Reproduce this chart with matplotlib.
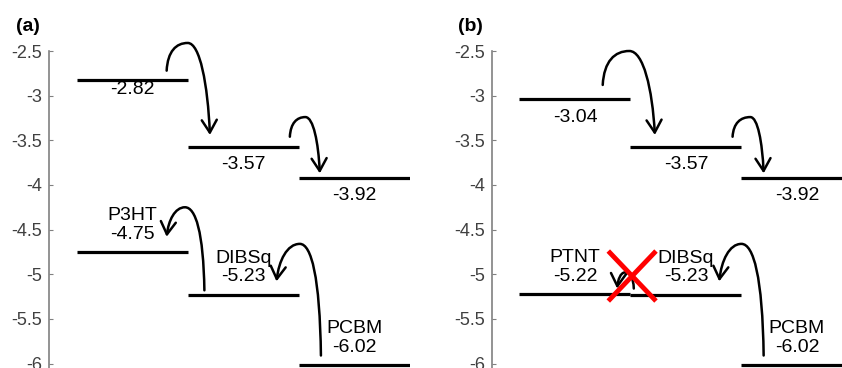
import matplotlib.pyplot as plt
from matplotlib.path import Path
from matplotlib.patches import FancyArrowPatch

plt.rcParams['font.family'] = ['Liberation Sans', 'DejaVu Sans']

# energy levels (eV): position 0 = donor, 1 = DIBSq, 2 = PCBM
lumo_a = [-2.82, -3.57, -3.92]
homo_a = [-4.75, -5.23, -6.02]
lumo_b = [-3.04, -3.57, -3.92]
homo_b = [-5.22, -5.23, -6.02]
names_a = ['P3HT', 'DIBSq', 'PCBM']
names_b = ['PTNT', 'DIBSq', 'PCBM']
yticks = [-6, -5.5, -5, -4.5, -4, -3.5, -3, -2.5]

# gap between LUMO line and its value label
lumo_gap_a = [0.11, 0.2, 0.2]
lumo_gap_b = [0.2, 0.2, 0.2]

# curved arrows: (start, peak, tip) in data coords
arrows_a = [((1.06, -2.72), (1.25, -2.41), (1.45, -3.44)),
            ((2.17, -3.46), (2.31, -3.24), (2.44, -3.87)),
            ((1.40, -5.18), (1.225, -4.25), (1.06, -4.58)),
            ((2.45, -5.91), (2.26, -4.66), (2.05, -5.08))]
arrows_b = [((1.00, -2.88), (1.24, -2.50), (1.47, -3.44)),
            ((2.17, -3.46), (2.33, -3.24), (2.45, -3.87)),
            ((1.28, -5.16), (1.20, -4.98), (1.13, -5.16)),
            ((2.45, -5.91), (2.25, -4.66), (2.05, -5.08))]


def curved_arrow(ax, start, peak, tip):
    x0, y0 = start
    xp, yp = peak
    xt, yt = tip
    verts = [(x0, y0),
             (x0 + 0.05 * (xp - x0), y0 + 0.7 * (yp - y0)),
             (xp - 0.55 * (xp - x0), yp),
             (xp, yp),
             (xp + 0.55 * (xt - xp), yp),
             (xt - 0.1 * (xt - xp), yp + 0.45 * (yt - yp)),
             (xt, yt)]
    codes = [Path.MOVETO] + [Path.CURVE4] * 6
    arr = FancyArrowPatch(path=Path(verts, codes),
                          arrowstyle='->,head_length=5,head_width=3',
                          lw=1.8, color='black', mutation_scale=1.8,
                          clip_on=False)
    ax.add_patch(arr)


def draw_panel(ax, lumo, homo, names, gaps, arrows, tag):
    for i in range(3):
        x0, x1 = i + 0.25, i + 1.25
        xc = i + 0.75
        ax.plot([x0, x1], [lumo[i], lumo[i]], color='black', lw=2.3,
                solid_capstyle='butt')
        ax.plot([x0, x1], [homo[i], homo[i]], color='black', lw=2.3,
                solid_capstyle='butt')
        ax.text(xc, lumo[i] - gaps[i], '%.2f' % lumo[i], ha='center',
                va='center', fontsize=14)
        ax.text(xc, homo[i] + 0.41, names[i], ha='center', va='center',
                fontsize=14)
        ax.text(xc, homo[i] + 0.2, '%.2f' % homo[i], ha='center', va='center',
                fontsize=14)
    for s, p, t in arrows:
        curved_arrow(ax, s, p, t)
    ax.set_xlim(0, 3.25)
    ax.set_ylim(-6.05, -2.5)
    ax.set_yticks(yticks)
    ax.set_yticklabels(['%g' % v for v in yticks])
    ax.tick_params(axis='y', direction='in', length=3, color='#808080',
                   labelsize=13, labelcolor='#404040', pad=5)
    ax.set_xticks([])
    for side in ['top', 'right', 'bottom']:
        ax.spines[side].set_visible(False)
    ax.spines['left'].set_color('#808080')
    ax.spines['left'].set_linewidth(1.2)
    ax.text(-0.3, -2.22, tag, fontsize=14, fontweight='bold', ha='left',
            va='center', clip_on=False)


fig = plt.figure(figsize=(8.42, 3.68), dpi=100)
ax1 = fig.add_axes([0.0582, 0.0, 0.4284, 0.8614])
ax2 = fig.add_axes([0.584, 0.0, 0.4284, 0.8614])
for a in (ax1, ax2):
    a.patch.set_alpha(0)

draw_panel(ax1, lumo_a, homo_a, names_a, lumo_gap_a, arrows_a, '(a)')
draw_panel(ax2, lumo_b, homo_b, names_b, lumo_gap_b, arrows_b, '(b)')

# red cross: transfer blocked between PTNT and DIBSq
ax2.plot([1.05, 1.48], [-4.74, -5.30], color='red', lw=3.5, solid_capstyle='butt')
ax2.plot([1.05, 1.48], [-5.30, -4.74], color='red', lw=3.5, solid_capstyle='butt')

fig.savefig('out.png', dpi=100)
